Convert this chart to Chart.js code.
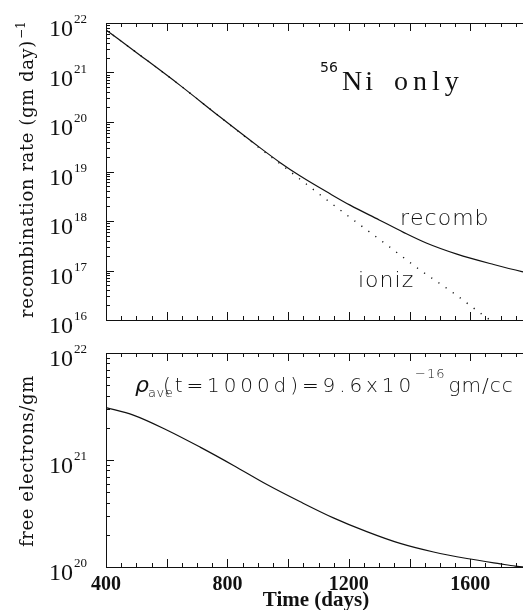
<!DOCTYPE html>
<html>
<head>
<meta charset="utf-8">
<script src="https://cdn.jsdelivr.net/npm/chart.js@4.4.0/dist/chart.umd.min.js"></script>
<style>
	html, body { margin: 0; padding: 0; background: #fff; overflow: hidden; width: 523px; height: 610px; }
	canvas { position: absolute; left: 0; top: 0; }
</style>
</head>
<body>
<canvas id="rateChart" width="540" height="610"></canvas>
<canvas id="elecChart" width="540" height="610"></canvas>
<script>
// time axis (days)
const dayMin = 400;
const dayMax = 1800;
const dayLabels = [400, 800, 1200, 1600];

// top panel: recombination / ionization rate per gm per day
const rateDecades = [16, 17, 18, 19, 20, 21, 22];
const recombDays = [400, 512, 644, 776, 908, 974, 1040, 1138, 1204, 1300, 1380, 1457, 1556, 1677, 1770, 1800];
const recombRate = [7.24e21, 2.24e21, 5.5e20, 1.26e20, 3.0e19, 1.51e19, 8.1e18, 3.55e18, 2.09e18, 1.05e18, 5.9e17, 3.55e17, 2.14e17, 1.32e17, 9.5e16, 8.7e16];
const ionizDays = [400, 512, 644, 776, 908, 996, 1105, 1215, 1325, 1435, 1545, 1633, 1700];
const ionizRate = [7.24e21, 2.24e21, 5.5e20, 1.26e20, 2.9e19, 1.12e19, 3.4e18, 1.05e18, 3.3e17, 1.02e17, 3.5e16, 1.38e16, 7.1e15];

// bottom panel: free electrons per gm
const elecDecades = [20, 21, 22];
const elecDays = [400, 490, 600, 710, 820, 930, 1040, 1149, 1259, 1369, 1479, 1589, 1699, 1748, 1800];
const elecPerGm = [3.09e21, 2.63e21, 1.91e21, 1.32e21, 8.9e20, 5.9e20, 4.07e20, 2.88e20, 2.14e20, 1.66e20, 1.38e20, 1.2e20, 1.07e20, 1.02e20, 0.99e20];

const ink = '#111';

function pts(xs, ys) {
	return xs.map((x, i) => ({ x: x, y: ys[i] }));
}

// draw text one char at a time with extra spacing (wide plotter look)
function spaced(ctx, text, x, y, gap) {
	for (const ch of text) {
		ctx.fillText(ch, x, y);
		x += ctx.measureText(ch).width + gap;
	}
	return x;
}

const framePlugin = {
	id: 'frame',
	afterDraw(chart, args, opts) {
		const ctx = chart.ctx;
		const a = chart.chartArea;
		const xs = chart.scales.x;
		const ys = chart.scales.y;
		const decades = opts.decades;
		ctx.save();
		ctx.strokeStyle = ink;
		ctx.lineWidth = 1;
		ctx.strokeRect(Math.round(a.left) + 0.5, Math.round(a.top) + 0.5, Math.round(a.right - a.left), Math.round(a.bottom - a.top));
		ctx.beginPath();
		for (let t = dayMin; t <= dayMax; t += 50) {
			const px = Math.round(xs.getPixelForValue(t)) + 0.5;
			const len = t % 200 === 0 ? 8 : 4;
			ctx.moveTo(px, a.bottom); ctx.lineTo(px, a.bottom - len);
			ctx.moveTo(px, a.top); ctx.lineTo(px, a.top + len);
		}
		const last = decades[decades.length - 1];
		for (let d = decades[0]; d <= last; d++) {
			for (let m = 1; m <= 9; m++) {
				if (d === last && m > 1) break;
				const py = Math.round(ys.getPixelForValue(m * Math.pow(10, d))) + 0.5;
				const len = m === 1 ? 8 : 4;
				ctx.moveTo(a.left, py); ctx.lineTo(a.left + len, py);
				ctx.moveTo(a.right, py); ctx.lineTo(a.right - len, py);
			}
		}
		ctx.stroke();

		// y tick labels 10^n
		ctx.fillStyle = ink;
		ctx.textBaseline = 'alphabetic';
		decades.forEach((d) => {
			const py = ys.getPixelForValue(Math.pow(10, d));
			ctx.font = '24px "Liberation Serif"';
			ctx.textAlign = 'right';
			ctx.fillText('10', 73, py + 13);
			ctx.font = '13px "Liberation Serif"';
			ctx.textAlign = 'left';
			ctx.fillText(String(d), 74, py);
		});

		if (opts.dayLabels) {
			ctx.font = 'bold 20px "Liberation Serif"';
			ctx.textAlign = 'center';
			dayLabels.forEach((t) => {
				ctx.fillText(String(t), xs.getPixelForValue(t), 590);
			});
			ctx.font = 'bold 21px "Liberation Serif"';
			ctx.fillText('Time (days)', 316, 606);
		}
		ctx.restore();
	},
};

const textPlugin = {
	id: 'notes',
	afterDraw(chart, args, opts) {
		const ctx = chart.ctx;
		ctx.save();
		ctx.fillStyle = ink;
		ctx.textAlign = 'left';
		ctx.textBaseline = 'alphabetic';
		if (opts.panel === 'top') {
			// y title, rotated
			ctx.save();
			ctx.translate(33, 318);
			ctx.rotate(-Math.PI / 2);
			ctx.font = '18px "DejaVu Serif"';
			let x = spaced(ctx, 'recombination rate (gm day)', 0, 0, 0.6);
			ctx.font = '12px "DejaVu Serif"';
			ctx.fillText('\u22121', x + 1, -8);
			ctx.restore();

			ctx.font = '14px "DejaVu Sans"';
			ctx.fillText('56', 320, 72);
			ctx.font = '28px "Liberation Serif"';
			x = spaced(ctx, 'Ni', 342, 90, 3);
			spaced(ctx, 'only', x + 18, 90, 5);

			ctx.font = '200 22px "DejaVu Sans"';
			spaced(ctx, 'recomb', 400, 225, 1);
			spaced(ctx, 'ioniz', 358, 287, 1);
		} else {
			ctx.save();
			ctx.translate(33, 547);
			ctx.rotate(-Math.PI / 2);
			ctx.font = '18px "DejaVu Serif"';
			spaced(ctx, 'free electrons/gm', 0, 0, 0.6);
			ctx.restore();

			ctx.font = 'italic 200 22px "DejaVu Sans"';
			ctx.fillText('\u03c1', 135, 392);
			ctx.font = '200 13px "DejaVu Sans"';
			spaced(ctx, 'ave', 148, 397, 0.5);
			ctx.font = '200 20px "DejaVu Sans"';
			let x = spaced(ctx, '(t=1000d)=9.6x10', 163, 392, 3.9);
			ctx.font = '200 13px "DejaVu Sans"';
			x = spaced(ctx, '\u221216', x, 378, 1);
			ctx.font = '200 20px "DejaVu Sans"';
			spaced(ctx, 'gm/cc', x + 3, 392, 1);
		}
		ctx.restore();
	},
};

function makePanel(id, datasets, padding, decades, panel) {
	return new Chart(document.getElementById(id), {
		type: 'line',
		data: { datasets: datasets },
		options: {
			responsive: false,
			animation: false,
			events: [],
			layout: { padding: padding },
			elements: { point: { radius: 0 } },
			scales: {
				x: { type: 'linear', min: dayMin, max: dayMax, display: false },
				y: { type: 'logarithmic', min: Math.pow(10, decades[0]), max: Math.pow(10, decades[decades.length - 1]), display: false },
			},
			plugins: {
				legend: { display: false },
				tooltip: { enabled: false },
				frame: { decades: decades, dayLabels: panel === 'bottom' },
				notes: { panel: panel },
			},
		},
		plugins: [framePlugin, textPlugin],
	});
}

makePanel('rateChart', [
	{
		data: pts(recombDays, recombRate),
		borderColor: ink,
		borderWidth: 1.2,
		cubicInterpolationMode: 'monotone',
	},
	{
		data: pts(ionizDays, ionizRate),
		borderColor: ink,
		borderWidth: 1.4,
		borderDash: [1.2, 7.5],
		cubicInterpolationMode: 'monotone',
	},
], { left: 106, top: 23, right: 9, bottom: 290 }, rateDecades, 'top');

makePanel('elecChart', [
	{
		data: pts(elecDays, elecPerGm),
		borderColor: ink,
		borderWidth: 1.2,
		cubicInterpolationMode: 'monotone',
	},
], { left: 106, top: 353, right: 9, bottom: 43 }, elecDecades, 'bottom');
</script>
</body>
</html>
